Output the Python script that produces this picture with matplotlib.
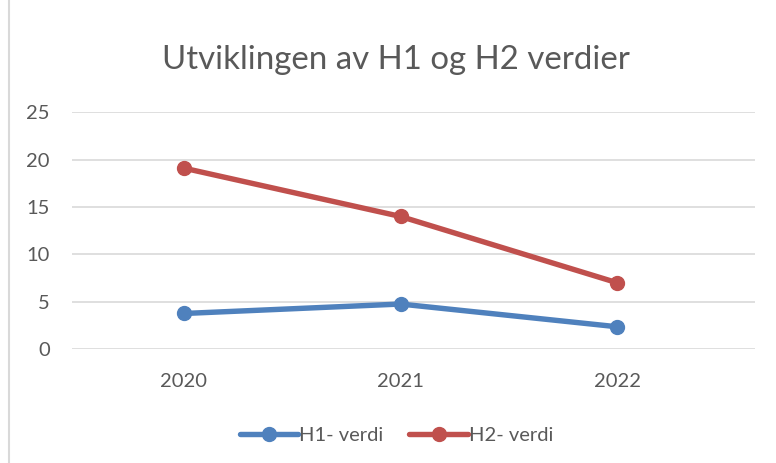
import matplotlib.pyplot as plt
from matplotlib.lines import Line2D

# data
years = ['2020', '2021', '2022']
h1 = [3.75, 4.75, 2.35]
h2 = [19.1, 14.0, 7.0]

blue = '#4F81BD'
red = '#C0504D'
txt = '#595959'
plt.rcParams['font.family'] = ['Lato', 'DejaVu Sans']

fig = plt.figure(figsize=(7.76, 4.63), dpi=100)
ax = fig.add_axes([72/776, 1-349/463, (755-72)/776, (349-112.3)/463])

x = range(len(years))
ax.plot(x, h1, color=blue, lw=3.9, marker='o', ms=10, label='H1- verdi',
        solid_capstyle='round')
ax.plot(x, h2, color=red, lw=3.9, marker='o', ms=10, label='H2- verdi',
        solid_capstyle='round')

ax.set_ylim(0, 25)
ax.set_yticks([0, 5, 10, 15, 20, 25])
ax.set_xlim(-0.517, 2.637)
ax.set_xticks(list(x))
ax.set_xticklabels(years)
ax.grid(axis='y', color='#D9D9D9', lw=1.2)
ax.set_axisbelow(True)
for s in ax.spines.values():
    s.set_visible(False)
ax.tick_params(length=0, labelsize=14.5, labelcolor=txt)
ax.tick_params(axis='y', pad=16)
ax.tick_params(axis='x', pad=17)

fig.text(0.51, 1-60/463, 'Utviklingen av H1 og H2 verdier', ha='center', va='center',
         fontsize=23.8, color=txt)

ax.legend(loc='center', bbox_to_anchor=(0.475, 1-(435-112.3)/(349-112.3)), ncol=2,
          frameon=False, fontsize=14.5, labelcolor=txt, handlelength=2.9,
          handletextpad=0.05, columnspacing=1.3, bbox_transform=ax.transAxes)

fig.add_artist(Line2D([8.5/776, 8.5/776], [0, 1], color='#D9D9D9', lw=1.5,
                      transform=fig.transFigure))

fig.savefig('out.png', dpi=100)
